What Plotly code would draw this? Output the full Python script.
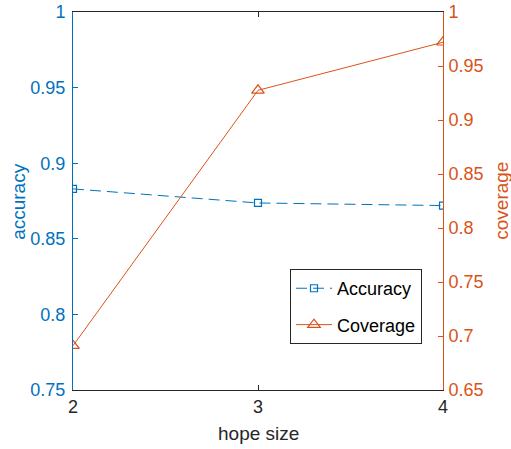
import plotly.graph_objects as go

hope_size = [2, 3, 4]
accuracy = [0.883, 0.8737, 0.872]
coverage = [0.691, 0.9275, 0.972]

acc_ticks = [0.75, 0.8, 0.85, 0.9, 0.95, 1]
acc_labels = ["0.75", "0.8", "0.85", "0.9", "0.95", "1"]
cov_ticks = [0.65, 0.7, 0.75, 0.8, 0.85, 0.9, 0.95, 1]
cov_labels = ["0.65", "0.7", "0.75", "0.8", "0.85", "0.9", "0.95", "1"]

BLUE = "#0072BD"
ORANGE = "#D95319"
FONT = "Liberation Sans, Arial, sans-serif"

fig = go.Figure()
fig.add_trace(go.Scatter(
    x=hope_size, y=accuracy, name="Accuracy", mode="lines+markers",
    line=dict(color=BLUE, width=1, dash="11px,6px"),
    marker=dict(symbol="square-open", size=7, color=BLUE, line=dict(width=1.2)),
    legendgroup="a", yaxis="y"))
fig.add_trace(go.Scatter(
    x=hope_size, y=coverage, name="Coverage", mode="lines+markers",
    line=dict(color=ORANGE, width=1),
    marker=dict(symbol="triangle-up-open", size=11, color=ORANGE, line=dict(width=1.2)),
    legendgroup="b", yaxis="y2"))

fig.update_layout(
    width=511, height=449,
    margin=dict(l=73, r=68, t=12, b=59, autoexpand=False),
    paper_bgcolor="white", plot_bgcolor="white",
    font=dict(family=FONT, size=18, color="#262626"),
    showlegend=True,
    legend=dict(x=0.5865, y=0.32, xanchor="left", yanchor="top",
                bordercolor="#262626", borderwidth=1, bgcolor="white",
                font=dict(size=18, color="black"), tracegroupgap=10,
                itemwidth=36),
    xaxis=dict(range=[2, 4], tickvals=hope_size, ticktext=[str(v) for v in hope_size],
               showgrid=False, zeroline=False, showline=True, linecolor="#262626",
               linewidth=1, mirror="ticks", ticks="inside", ticklen=5, tickcolor="#262626",
               automargin=False, tickfont=dict(size=18)),
    yaxis=dict(range=[0.75, 1], tickvals=acc_ticks, ticktext=acc_labels,
               showgrid=False, zeroline=False, showline=True, linecolor=BLUE,
               linewidth=1, ticks="inside", ticklen=5, tickcolor=BLUE,
               ticklabelstandoff=3,
               automargin=False, tickfont=dict(color=BLUE, size=18)),
    yaxis2=dict(range=[0.65, 1], tickvals=cov_ticks, ticktext=cov_labels,
                overlaying="y", side="right",
                showgrid=False, zeroline=False, showline=True, linecolor=ORANGE,
                linewidth=1, ticks="inside", ticklen=5, tickcolor=ORANGE,
                ticklabelstandoff=1,
                automargin=False, tickfont=dict(color=ORANGE, size=18)),
    annotations=[
        dict(text="accuracy", xref="paper", yref="paper", x=-0.149, y=0.5,
             xanchor="center", yanchor="middle", textangle=-90, showarrow=False,
             font=dict(color=BLUE, size=19)),
        dict(text="coverage", xref="paper", yref="paper", x=1.156, y=0.5,
             xanchor="center", yanchor="middle", textangle=-90, showarrow=False,
             font=dict(color=ORANGE, size=19)),
        dict(text="hope size", xref="paper", yref="paper", x=0.5, y=-0.114,
             xanchor="center", yanchor="middle", showarrow=False,
             font=dict(color="#262626", size=19)),
    ],
)

fig.write_html(
    "out.html",
    config={"displayModeBar": False},
    post_script="document.body.style.margin='0';document.body.style.overflow='hidden';",
)
